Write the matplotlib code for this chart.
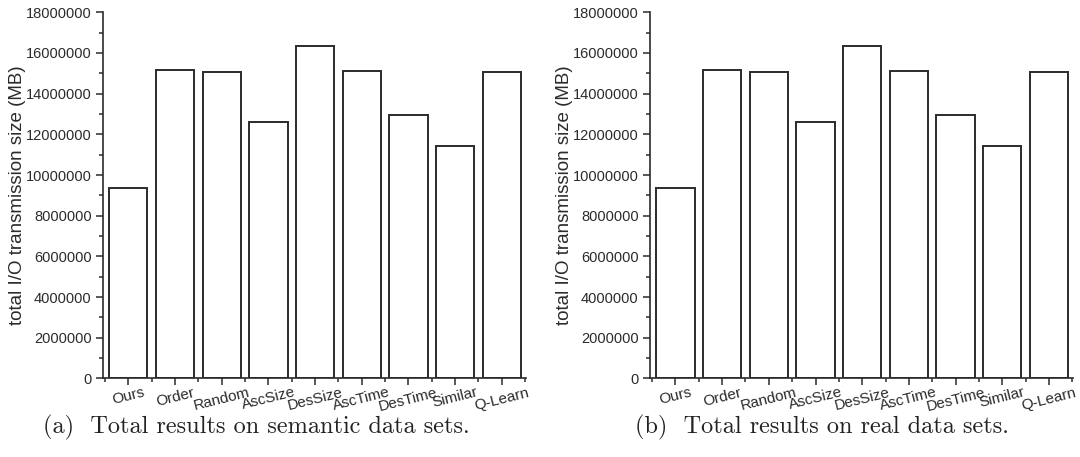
import numpy as np
import matplotlib
matplotlib.use("Agg")
import matplotlib.pyplot as plt
from matplotlib.ticker import MultipleLocator

plt.rcParams['font.family'] = ['Liberation Sans', 'DejaVu Sans']

methods = ["Ours", "Order", "Random", "AscSize", "DesSize", "AscTime", "DesTime", "Similar", "Q-Learn"]
semantic_io = [9350000, 15150000, 15080000, 12590000, 16340000, 15130000, 12950000, 11430000, 15080000]
real_io = [9350000, 15150000, 15080000, 12590000, 16340000, 15130000, 12950000, 11430000, 15080000]
captions = ["(a)  Total results on semantic data sets.", "(b)  Total results on real data sets."]

ink = "#2b2b2b"

fig = plt.figure(figsize=(10.8, 4.57), dpi=100)
ax1 = fig.add_axes([0.0957, 0.1718, 0.3914, 0.8013])
ax2 = fig.add_axes([0.6023, 0.1718, 0.3914, 0.8013])

x = np.arange(len(methods))
for ax, vals in [(ax1, semantic_io), (ax2, real_io)]:
    ax.bar(x, vals, width=0.82, color="white", edgecolor=ink, linewidth=1.4)
    ax.set_xlim(-0.535, 8.52)
    ax.set_ylim(0, 18000000)
    ax.yaxis.set_major_locator(MultipleLocator(2000000))
    ax.yaxis.set_minor_locator(MultipleLocator(1000000))
    ax.set_xticks(x)
    ax.set_xticks(np.append(x - 0.5, 8.5), minor=True)
    ax.set_xticklabels(methods, rotation=14, ha="center", fontsize=11, color=ink)
    ax.tick_params(axis="y", labelsize=10.5, labelcolor=ink)
    ax.tick_params(which="major", direction="out", length=5, width=1.1, color=ink)
    ax.tick_params(which="minor", direction="out", length=3, width=1.1, color=ink)
    ax.tick_params(axis="x", which="both", pad=0)
    ax.spines["top"].set_visible(False)
    ax.spines["right"].set_visible(False)
    for s in ["left", "bottom"]:
        ax.spines[s].set_color(ink)
        ax.spines[s].set_linewidth(1.2)
    ax.set_ylabel("total I/O transmission size (MB)", fontsize=13.5, color=ink)
    ax.yaxis.set_label_coords(-0.183, 0.5)
    ax.ticklabel_format(axis="y", style="plain")

fig.text(256 / 1080, 1 - 427 / 457, captions[0], ha="center", va="center",
         fontsize=17.5, family=["cmr10", "DejaVu Serif"], color="#222222")
fig.text(822 / 1080, 1 - 427 / 457, captions[1], ha="center", va="center",
         fontsize=17.5, family=["cmr10", "DejaVu Serif"], color="#222222")

fig.savefig("out.png", dpi=100)
